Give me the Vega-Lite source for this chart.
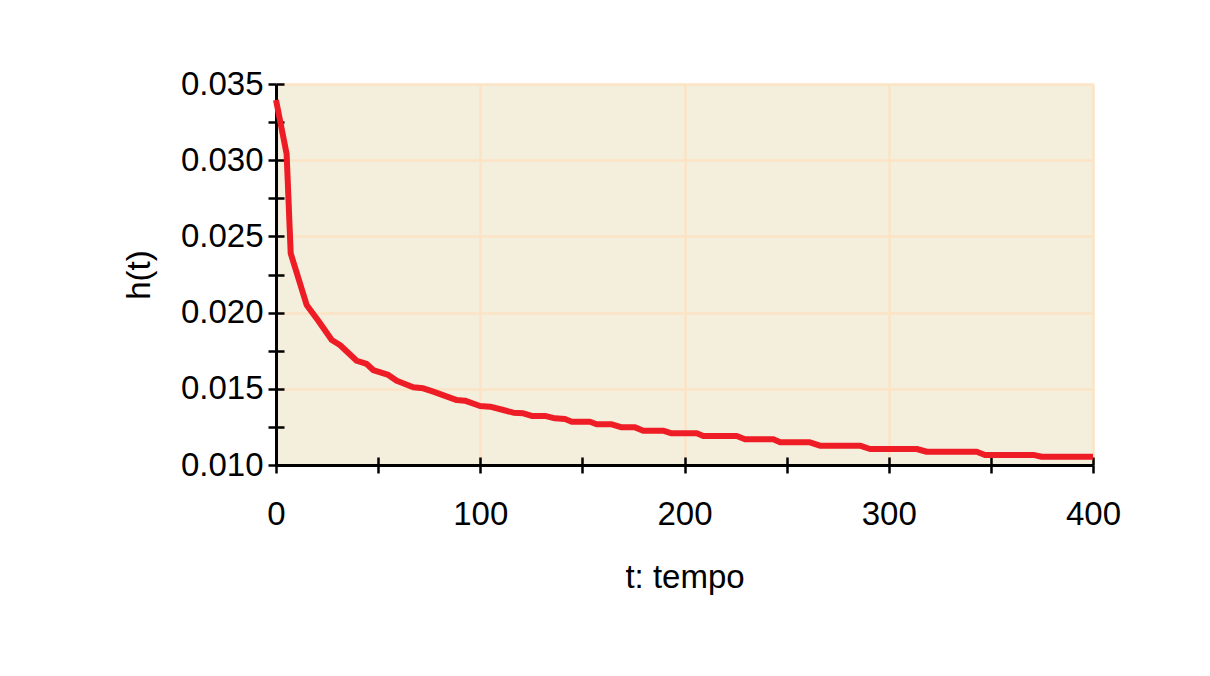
{
  "$schema": "https://vega.github.io/schema/vega-lite/v6.json",
  "width": 817,
  "height": 381,
  "autosize": {"type": "none"},
  "padding": {"left": 276, "top": 84, "right": 117, "bottom": 211},
  "background": "white",
  "config": {"view": {"fill": "#F4EEDC", "stroke": null}, "font": "Liberation Sans"},
  "data": {"values": [
    {"t": 0, "h": 0.03395},
    {"t": 5.2, "h": 0.03041},
    {"t": 7.2, "h": 0.02389},
    {"t": 15.0, "h": 0.02050},
    {"t": 20.8, "h": 0.01945},
    {"t": 27.3, "h": 0.01820},
    {"t": 31.3, "h": 0.01787},
    {"t": 39.5, "h": 0.01684},
    {"t": 44.4, "h": 0.01663},
    {"t": 47.6, "h": 0.01623},
    {"t": 55.0, "h": 0.01591},
    {"t": 59.1, "h": 0.01553},
    {"t": 67.2, "h": 0.01510},
    {"t": 72.1, "h": 0.01503},
    {"t": 77.0, "h": 0.01481},
    {"t": 88.5, "h": 0.01426},
    {"t": 92.5, "h": 0.01422},
    {"t": 99.9, "h": 0.01387},
    {"t": 104.8, "h": 0.01383},
    {"t": 111.3, "h": 0.01361},
    {"t": 116.2, "h": 0.01343},
    {"t": 121.1, "h": 0.01339},
    {"t": 125.2, "h": 0.01322},
    {"t": 131.7, "h": 0.01322},
    {"t": 136.6, "h": 0.01306},
    {"t": 141.5, "h": 0.01302},
    {"t": 144.8, "h": 0.01284},
    {"t": 153.7, "h": 0.01284},
    {"t": 157.0, "h": 0.01267},
    {"t": 164.4, "h": 0.01267},
    {"t": 169.3, "h": 0.01247},
    {"t": 175.8, "h": 0.01247},
    {"t": 179.8, "h": 0.01225},
    {"t": 189.5, "h": 0.01225},
    {"t": 193.7, "h": 0.01208},
    {"t": 206.0, "h": 0.01208},
    {"t": 209.2, "h": 0.01190},
    {"t": 225.6, "h": 0.01190},
    {"t": 229.6, "h": 0.01169},
    {"t": 243.5, "h": 0.01169},
    {"t": 246.8, "h": 0.01149},
    {"t": 261.4, "h": 0.01149},
    {"t": 266.3, "h": 0.01127},
    {"t": 285.9, "h": 0.01127},
    {"t": 290.8, "h": 0.01105},
    {"t": 313.7, "h": 0.01105},
    {"t": 318.6, "h": 0.01087},
    {"t": 343.1, "h": 0.01087},
    {"t": 347.1, "h": 0.01066},
    {"t": 370.8, "h": 0.01066},
    {"t": 374.9, "h": 0.01054},
    {"t": 400, "h": 0.01054}
  ]},
  "layer": [
    {
      "mark": {"type": "line", "color": "#EE1C25", "strokeWidth": 6, "strokeJoin": "round"},
      "encoding": {
        "x": {
          "field": "t", "type": "quantitative",
          "scale": {"domain": [0, 400], "nice": false, "zero": false},
          "axis": {
            "orient": "bottom",
            "values": [0, 50, 100, 150, 200, 250, 300, 350, 400],
            "labelExpr": "datum.value % 100 == 0 ? datum.label : ''",
            "labelFlush": false, "labelOverlap": false,
            "labelFont": "Liberation Sans", "labelFontSize": 33, "labelColor": "black", "labelPadding": 25,
            "tickSize": 8, "tickWidth": 2.5, "tickColor": "black",
            "domainColor": "black", "domainWidth": 3,
            "grid": true, "gridColor": "#FDE3C5", "gridWidth": 2.5,
            "gridOpacity": {"condition": {"test": "datum.value % 100 == 0", "value": 1}, "value": 0},
            "title": "t: tempo", "titleFont": "Liberation Sans", "titleFontSize": 33, "titleFontWeight": "normal", "titleColor": "black", "titlePadding": 30
          }
        },
        "y": {
          "field": "h", "type": "quantitative",
          "scale": {"domain": [0.01, 0.035], "nice": false, "zero": false},
          "axis": {
            "orient": "left",
            "values": [0.01, 0.0125, 0.015, 0.0175, 0.02, 0.0225, 0.025, 0.0275, 0.03, 0.0325, 0.035],
            "labelExpr": "abs(datum.value * 200 - round(datum.value * 200)) < 0.000001 ? format(datum.value, '.3f') : ''",
            "labelOverlap": false, "labelFlush": false,
            "labelFont": "Liberation Sans", "labelFontSize": 33, "labelColor": "black", "labelPadding": 5,
            "tickSize": 8, "tickWidth": 2.5, "tickColor": "black",
            "domainColor": "black", "domainWidth": 3,
            "grid": true, "gridColor": "#FDE3C5", "gridWidth": 2.5,
            "gridOpacity": {"condition": {"test": "abs(datum.value * 200 - round(datum.value * 200)) < 0.000001", "value": 1}, "value": 0},
            "title": "h(t)", "titleFont": "Liberation Sans", "titleFontSize": 33, "titleFontWeight": "normal", "titleColor": "black", "titlePadding": 24
          }
        }
      }
    },
    {
      "mark": {"type": "line", "opacity": 0},
      "encoding": {
        "x": {
          "field": "t", "type": "quantitative",
          "axis": {
            "orient": "bottom", "offset": -8,
            "values": [0, 50, 100, 150, 200, 250, 300, 350, 400],
            "labels": false, "domain": false, "grid": false, "title": null,
            "tickSize": 8, "tickWidth": 2.5, "tickColor": "black"
          }
        },
        "y": {
          "field": "h", "type": "quantitative",
          "axis": {
            "orient": "left", "offset": -8,
            "values": [0.01, 0.0125, 0.015, 0.0175, 0.02, 0.0225, 0.025, 0.0275, 0.03, 0.0325, 0.035],
            "labels": false, "domain": false, "grid": false, "title": null,
            "tickSize": 8, "tickWidth": 2.5, "tickColor": "black"
          }
        }
      }
    }
  ],
  "resolve": {"axis": {"x": "independent", "y": "independent"}}
}
